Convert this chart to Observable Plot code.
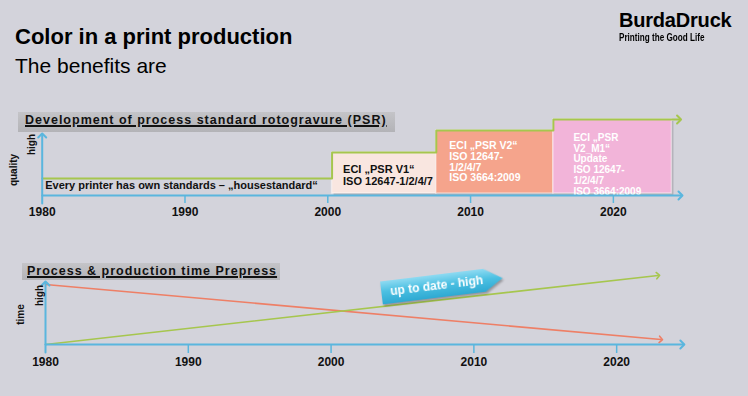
<!DOCTYPE html>
<html>
<head>
<meta charset="utf-8">
<script src="https://cdn.jsdelivr.net/npm/d3@7"></script>
<script src="https://cdn.jsdelivr.net/npm/@observablehq/plot@0.6"></script>
<style>
  html, body { margin: 0; padding: 0; background: #d3d3db; }
  #page { position: relative; width: 748px; height: 396px; overflow: hidden;
          font-family: "Liberation Sans", Arial, sans-serif; color: #000; }
  .abs { position: absolute; white-space: nowrap; }
  .hdr { position: absolute; background: linear-gradient(#c4c4c8, #b3b3b7); }
  .hdr span { font-weight: bold; text-decoration: underline; text-decoration-thickness: 1.5px;
              letter-spacing: 1px; font-size: 12.5px; color: #111; }
  #chartTop, #chartBot { position: absolute; left: 0; }
</style>
</head>
<body>
<div id="page">
  <div id="chartTop" style="top:100px"></div>
  <div id="chartBot" style="top:250px"></div>

  <div class="abs" style="left:15px;top:26.4px;font-size:22px;line-height:22px;font-weight:bold;">Color in a print production</div>
  <div class="abs" style="left:15px;top:55.2px;font-size:21px;line-height:21px;">The benefits are</div>

  <div class="abs" style="left:619px;top:10px;font-size:20px;line-height:20px;font-weight:bold;letter-spacing:-0.2px;">BurdaDruck</div>
  <div class="abs" style="left:619px;top:32.5px;font-size:10.3px;line-height:10px;font-weight:bold;transform:scaleX(0.79);transform-origin:left center;">Printing the Good Life</div>

  <div class="hdr" style="left:18px;top:112px;width:377px;height:20px;">
    <span class="abs" style="left:7px;top:0;line-height:17px;">Development of process standard rotogravure (PSR)</span>
  </div>
  <div class="hdr" style="left:22px;top:263px;width:258px;height:17px;">
    <span class="abs" style="left:5px;top:0;line-height:16px;">Process &amp; production time Prepress</span>
  </div>

  <div class="abs" style="left:381px;top:274px;width:122px;height:23px;transform:rotate(-7deg);filter:drop-shadow(1px 2px 1px rgba(0,0,0,0.3));">
    <div style="width:122px;height:23px;clip-path:polygon(0 0,85% 0,100% 50%,85% 100%,0 100%);background:linear-gradient(#8edaf2,#4cc0e2 45%,#2ea9d2);">
      <span class="abs" style="left:9px;top:0;line-height:23px;font-size:12px;font-weight:bold;color:#fff;">up to date - high</span>
    </div>
  </div>
</div>
<script>
// ---------- data ----------
const years = [1980, 1990, 2000, 2010, 2020];
const axisEndTop = 2024.7;
const axisEndBot = 2024.6;

// top chart: quality development (index, baseline = 0)
const stepYears = [1980, 2000.3, 2007.6, 2015.8, 2024.6];
const stepQuality = [17, 43, 65, 76, 76];
const boxStart = [2000.3, 2007.6, 2015.8];
const boxEnd = [2007.6, 2015.8, 2024.1];
const boxQuality = [43, 65, 76];
const boxLabels = [
  "ECI „PSR V1“\nISO 12647-1/2/4/7",
  "ECI „PSR V2“\nISO 12647-\n1/2/4/7\nISO 3664:2009",
  "ECI „PSR\nV2_M1“\nUpdate\nISO 12647-\n1/2/4/7\nISO 3664:2009"
];
const houseLabel = "Every printer has own standards – „housestandard“";
const qualityTop = 60;

// bottom chart: process & production time
const timeYears = [1980, 2023.1];
const timeRed = [60, 5];
const upYears = [1980, 2022.9];
const upGreen = [0, 69];
const timeTop = 61;

// ---------- styles ----------
const BLUE = "#5ab6de";
const GREEN = "#a6c64e";
const RED = "#ee7f66";
const boxFill = ["#f9e6e0", "#f5a48c", "#f2b4d9"];
const boxText = ["#111", "#fff", "#fff"];
const boxDx = [11, 13, 20];
const boxDy = [13, 11, 14];
const boxFont = [11, 10.5, 10];
const boxLH = [1.02, 1.02, 1.07];
const FONT = "Liberation Sans, Arial, sans-serif";

const idx = n => d3.range(n);

// ---------- top chart ----------
const topMarks = [
  Plot.rect(idx(3), {x1: i => boxStart[i], x2: i => boxEnd[i], y1: 0, y2: i => boxQuality[i],
    insetBottom: 2, dx: 2, dy: 2, fill: "#6c6c74", fillOpacity: 0.35}),
  Plot.rect(idx(3), {x1: i => boxStart[i], x2: i => boxEnd[i], y1: 0, y2: i => boxQuality[i],
    insetBottom: 2, fill: i => boxFill[i], stroke: "#ffffff", strokeOpacity: 0.45, strokeWidth: 1.5}),
  Plot.text([houseLabel], {x: () => years[0], y: () => 0, dx: 3, dy: -10.5, text: d => d,
    textAnchor: "start", fontWeight: "bold", fontSize: 11, fill: "#111"}),
  ...idx(3).map(i => Plot.text([boxLabels[i]], {x: () => boxStart[i], y: () => boxQuality[i], text: d => d,
    dx: boxDx[i], dy: boxDy[i], textAnchor: "start", lineAnchor: "top", lineHeight: boxLH[i],
    fontWeight: "bold", fontSize: boxFont[i], fill: boxText[i]})),
  Plot.line(idx(stepYears.length), {x: i => stepYears[i], y: i => stepQuality[i], curve: "step-after",
    stroke: GREEN, strokeWidth: 2, markerEnd: "arrow"}),
  Plot.line([years[0], axisEndTop], {x: d => d, y: () => 0, stroke: BLUE, strokeWidth: 2, markerEnd: "arrow"}),
  Plot.line([-8, qualityTop], {x: () => years[0], y: d => d, stroke: BLUE, strokeWidth: 2, markerEnd: "arrow"}),
  Plot.ruleX(years.slice(1), {y1: 0, y2: -8, stroke: BLUE, strokeWidth: 1.5}),
  Plot.text(years, {x: d => d, y: () => 0, dy: 17, text: d => String(d), fontWeight: "bold", fontSize: 12, fill: "#111"}),
  Plot.text(["high"], {x: () => years[0], y: () => qualityTop - 9, dx: -10, text: d => d, rotate: -90,
    fontWeight: "bold", fontSize: 10, fill: "#111"}),
  Plot.text(["quality"], {x: () => years[0], y: () => qualityTop - 34.5, dx: -28, text: d => d, rotate: -90,
    fontWeight: "bold", fontSize: 10, fill: "#111"})
];

const topPlot = Plot.plot({
  width: 748, height: 125,
  marginTop: 10, marginBottom: 30, marginLeft: 0, marginRight: 0,
  style: {background: "transparent", overflow: "visible", fontFamily: FONT},
  x: {domain: [1980, 2028], range: [41.7, 727.1], axis: null},
  y: {domain: [0, 85], range: [95, 10], axis: null},
  color: {type: "identity"},
  marks: topMarks
});
document.getElementById("chartTop").append(topPlot);

// ---------- bottom chart ----------
const botPlot = Plot.plot({
  width: 748, height: 130,
  marginTop: 10, marginBottom: 36, marginLeft: 0, marginRight: 0,
  style: {background: "transparent", overflow: "visible", fontFamily: FONT},
  x: {domain: [1980, 2028], range: [45, 730.4], axis: null},
  y: {domain: [0, 84], range: [94, 10], axis: null},
  marks: [
    Plot.line(idx(2), {x: i => timeYears[i], y: i => timeRed[i], stroke: RED, strokeWidth: 1.6, markerEnd: "arrow"}),
    Plot.line(idx(2), {x: i => upYears[i], y: i => upGreen[i], stroke: GREEN, strokeWidth: 1.6, markerEnd: "arrow"}),
    Plot.line([years[0], axisEndBot], {x: d => d, y: () => 0, stroke: BLUE, strokeWidth: 2, markerEnd: "arrow"}),
    Plot.line([-8, timeTop], {x: () => years[0], y: d => d, stroke: BLUE, strokeWidth: 2, markerEnd: "arrow"}),
    Plot.ruleX(years.slice(1), {y1: 0, y2: -9, stroke: BLUE, strokeWidth: 1.5}),
    Plot.text(years, {x: d => d, y: () => 0, dy: 17.5, text: d => String(d), fontWeight: "bold", fontSize: 12, fill: "#111"}),
    Plot.text(["high"], {x: () => years[0], y: () => timeTop - 12, dx: -6, text: d => d, rotate: -90,
      fontWeight: "bold", fontSize: 10, fill: "#111"}),
    Plot.text(["time"], {x: () => years[0], y: () => timeTop - 31, dx: -25, text: d => d, rotate: -90,
      fontWeight: "bold", fontSize: 10, fill: "#111"})
  ]
});
document.getElementById("chartBot").append(botPlot);
</script>
</body>
</html>
